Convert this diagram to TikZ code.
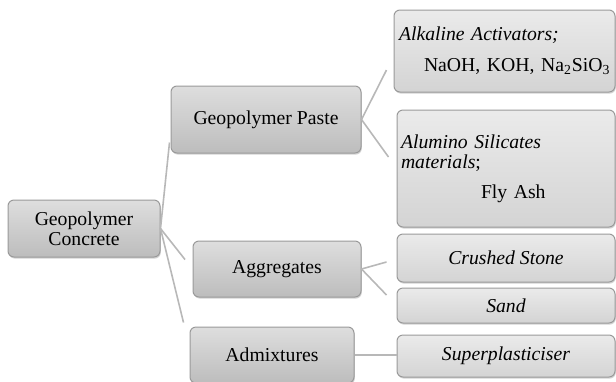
\documentclass[tikz,border=0pt]{standalone}
\usepackage{fontspec}
\setmainfont{Liberation Serif}
\usetikzlibrary{calc,shadows}
\definecolor{boxline}{HTML}{9A9A9A}
\definecolor{linkgray}{HTML}{B8B8B8}

\begin{document}
\begin{tikzpicture}[x=0.5pt,y=-0.5pt,
   every node/.style={font=\fontsize{9.85}{10}\selectfont},
   box/.style={draw=boxline,line width=0.5pt,rounded corners=3pt,
      top color=black!13,bottom color=black!26,
      drop shadow={shadow xshift=0.4pt,shadow yshift=-0.8pt,opacity=0.35}},
   leaf/.style={box,top color=black!8,bottom color=black!17,
      minimum width=109pt},
   link/.style={draw=linkgray,line width=0.8pt}]
\useasboundingbox (0,0) rectangle (616,381);
% middle column
\node[box,minimum width=76pt,minimum height=28.5pt,align=center] (gc) at (84,228.5) {Geopolymer\\Concrete};
\node[box,minimum width=95pt,minimum height=33.5pt] (gp) at (266,119.5) {Geopolymer Paste};
\node[box,minimum width=84pt,minimum height=28pt] (agg) at (277,269) {Aggregates};
\node[box,minimum width=82pt,minimum height=28pt] (adm) at (272,355) {Admixtures};
% right column
\node[leaf,minimum width=110.5pt,minimum height=41pt,inner xsep=2.5pt,text width=105.5pt,align=left] (alk) at (504.5,51)
   {\textit{Alkaline Activators;}\\[5.5pt]\mbox{\hspace*{12.5pt}NaOH, KOH, Na\textsubscript{2}SiO\textsubscript{3}}};
\node[leaf,minimum height=58.5pt,inner xsep=2pt,text width=105pt,align=left] (alu) at (506,168.5)
   {\textit{Alumino Silicates}\\\textit{materials};\\[5pt]\hspace*{40pt}Fly Ash};
\node[leaf,minimum height=24pt] (crs) at (506,258) {\textit{Crushed Stone}};
\node[leaf,minimum height=17.5pt] (snd) at (506,305.5) {\textit{Sand}};
\node[leaf,minimum height=21pt] (sup) at (506,356) {\textit{Superplasticiser}};
% connectors
\draw[link] (gc.east) -- ($(gp.south west)+(-1,-11)$);
\draw[link,shorten >=6pt] (gc.east) -- (agg.west);
\draw[link] (gc.east) -- ($(adm.north west)+(-6,-4)$);
\draw[link] (gp.east) -- ($(alk.west)+(-7,19)$);
\draw[link] (gp.east) -- ($(alu.west)+(-8,-11.5)$);
\draw[link] (agg.east) -- ($(crs.west)+(-10,4)$);
\draw[link] (agg.east) -- ($(snd.west)+(-10,-10.5)$);
\draw[link] (adm.east) -- (adm.east -| sup.west);
\end{tikzpicture}
\end{document}
